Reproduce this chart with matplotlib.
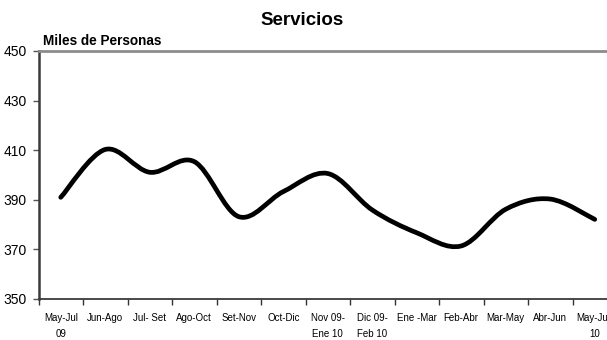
import numpy as np
import matplotlib
matplotlib.use("Agg")
import matplotlib.pyplot as plt
from matplotlib.path import Path
from matplotlib.patches import PathPatch

periods = ["May-Jul\n09", "Jun-Ago", "Jul- Set", "Ago-Oct", "Set-Nov", "Oct-Dic",
           "Nov 09-\nEne 10", "Dic 09-\nFeb 10", "Ene -Mar", "Feb-Abr", "Mar-May",
           "Abr-Jun", "May-Jun\n10"]
employed = [391.0, 410.3, 401.1, 405.4, 383.2, 393.3, 400.6, 385.9, 376.7,
            371.4, 386.2, 390.3, 382.1]
y_ticks = [350, 370, 390, 410, 430, 450]

fonts = ["Liberation Sans", "DejaVu Sans"]


def smooth_path(xs, ys):
    # Excel-style smoothed line: Bezier segments through every point
    pts = np.column_stack([xs, ys])
    n = len(pts)
    verts = [pts[0]]
    codes = [Path.MOVETO]
    for i in range(n - 1):
        p0 = pts[i - 1] if i > 0 else pts[i]
        p1 = pts[i]
        p2 = pts[i + 1]
        p3 = pts[i + 2] if i + 2 < n else pts[i + 1]
        c1 = p1 + (p2 - p0) / 6.0
        c2 = p2 - (p3 - p1) / 6.0
        verts += [c1, c2, p2]
        codes += [Path.CURVE4] * 3
    return Path(verts, codes)


fig = plt.figure(figsize=(6.07, 3.40), dpi=100)
ax = fig.add_axes([38.5 / 607, 41 / 340, 578.5 / 607, 248 / 340])

x = np.arange(len(employed))
ax.add_patch(PathPatch(smooth_path(x, employed), fill=False, edgecolor="black",
                       linewidth=3.4, capstyle="round", joinstyle="round"))

ax.set_xlim(-0.5, len(periods) - 0.5)
ax.set_ylim(350, 450)

ax.set_yticks(y_ticks)
ax.set_yticklabels([str(v) for v in y_ticks], family=fonts, fontsize=10)
ax.tick_params(axis="y", length=4.5, width=1, color="#555555", pad=4)

ax.set_xticks(x)
ax.set_xticklabels(periods, family=fonts, fontsize=7, linespacing=1.75,
                   va="top")
ax.set_xticks(np.arange(len(periods) + 1) - 0.5, minor=True)
ax.tick_params(axis="x", which="major", length=0, pad=10)
ax.tick_params(axis="x", which="minor", length=4.5, width=1, color="#333333")

ax.spines["top"].set_color("#8c8c8c")
ax.spines["top"].set_linewidth(2)
ax.spines["left"].set_color("#3a3a3a")
ax.spines["left"].set_linewidth(1.8)
ax.spines["bottom"].set_color("#3a3a3a")
ax.spines["bottom"].set_linewidth(1.3)
ax.spines["right"].set_visible(False)

fig.text(0.497, 0.94, "Servicios", ha="center", va="center", family=fonts,
         fontsize=13.5, fontweight="bold")
ax.text(0.007, 1.012, "Miles de Personas", transform=ax.transAxes, ha="left",
        va="bottom", family=fonts, fontsize=9.8, fontweight="bold")

fig.savefig("out.png", dpi=100)
